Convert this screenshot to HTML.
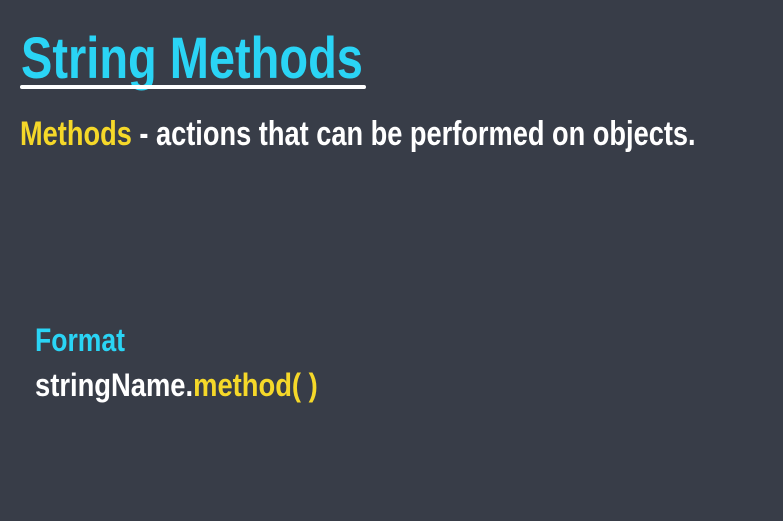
<!DOCTYPE html>
<html><head><style>
html,body{margin:0;padding:0;}
body{width:783px;height:521px;background:#383d48;position:relative;overflow:hidden;font-family:"Liberation Sans Narrow","Liberation Sans",sans-serif;font-weight:bold;}
.t{position:absolute;white-space:nowrap;transform-origin:0 0;line-height:1;}
.c{color:#2ad4f5}.y{color:#f5d829}.w{color:#fff}
</style></head><body>
<div class="t c" style="left:21px;top:30px;font-size:58px;transform:scaleX(0.81)">String Methods</div>
<div style="position:absolute;left:20px;top:85px;width:346px;height:4px;background:#fff;border-radius:2px"></div>
<div class="t w" style="left:20px;top:117px;font-size:34px;transform:scaleX(0.80)"><span class="y">Methods</span> - actions that can be performed on objects.</div>
<div class="t c" style="left:35px;top:324px;font-size:32px;transform:scaleX(0.83)">Format</div>
<div class="t w" style="left:35px;top:369px;font-size:32px;transform:scaleX(0.855)">stringName.<span class="y">method( )</span></div>
</body></html>
